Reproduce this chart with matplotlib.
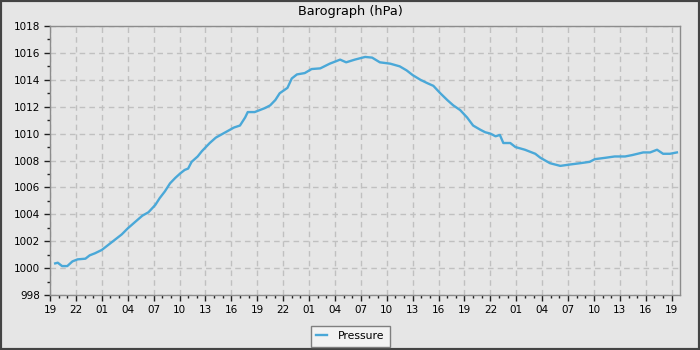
import matplotlib
matplotlib.use("Agg")
import matplotlib.pyplot as plt
from matplotlib.patches import Rectangle
from matplotlib.ticker import FixedLocator, MultipleLocator

# hours since 19:00 on the first day, and pressure in hPa
hours = [0.6, 0.9, 1.4, 2.0, 2.6, 3.2, 4.1, 4.6, 5.2, 6.0, 6.7, 7.5, 8.3, 9.0, 9.8,
         10.7, 11.4, 12.2, 12.7, 13.3, 13.9, 14.5, 15.1, 15.6, 16.0, 16.4, 17.1, 17.6,
         18.5, 19.2, 19.9, 20.6, 21.3, 22.0, 22.6, 22.9, 23.7, 24.3, 24.9, 25.5, 26.1,
         26.6, 27.5, 28.0, 28.6, 29.5, 30.3, 31.3, 32.4, 33.0, 33.6, 34.3, 35.3, 35.9,
         36.5, 37.3, 38.2, 39.4, 40.5, 41.3, 42.0, 42.9, 43.7, 44.4, 45.2, 46.0, 46.7,
         47.5, 48.3, 49.0, 49.8, 50.4, 51.0, 51.6, 52.1, 52.5, 53.3, 53.9, 55.0, 56.2,
         56.8, 57.9, 59.1, 60.2, 61.4, 62.5, 63.1, 64.3, 65.4, 66.6, 67.4, 68.7, 69.5,
         70.3, 71.0, 71.8, 72.6]
pressure = [1000.35, 1000.4, 1000.15, 1000.15, 1000.5, 1000.65, 1000.7, 1000.95, 1001.1,
            1001.35, 1001.7, 1002.1, 1002.5, 1002.95, 1003.4, 1003.9, 1004.15, 1004.7,
            1005.2, 1005.7, 1006.3, 1006.7, 1007.05, 1007.3, 1007.4, 1007.9, 1008.3,
            1008.7, 1009.3, 1009.7, 1009.95, 1010.2, 1010.45, 1010.6, 1011.2, 1011.6,
            1011.6, 1011.75, 1011.9, 1012.1, 1012.5, 1013.0, 1013.4, 1014.1, 1014.4,
            1014.5, 1014.8, 1014.85, 1015.2, 1015.35, 1015.5, 1015.3, 1015.5, 1015.6,
            1015.7, 1015.65, 1015.3, 1015.2, 1015.0, 1014.7, 1014.35, 1014.0, 1013.75,
            1013.55, 1013.0, 1012.5, 1012.1, 1011.75, 1011.2, 1010.6, 1010.3, 1010.1,
            1010.0, 1009.8, 1009.9, 1009.3, 1009.3, 1009.0, 1008.8, 1008.5, 1008.2,
            1007.8, 1007.6, 1007.7, 1007.8, 1007.9, 1008.1, 1008.2, 1008.3, 1008.3,
            1008.4, 1008.6, 1008.6, 1008.8, 1008.5, 1008.5, 1008.6]

tick_hours = list(range(0, 73, 3))
tick_labels = ["19", "22", "01", "04", "07", "10", "13", "16"] * 3 + ["19"]

bg = "#e6e6e6"
line_col = "#4aa8d8"

plt.rcParams['font.family'] = ['DejaVu Sans']

fig = plt.figure(figsize=(7, 3.5), dpi=100, facecolor=bg)
ax = fig.add_axes([50 / 700, 55 / 350, 630 / 700, 269 / 350], facecolor=bg)

ax.plot(hours, pressure, color=line_col, lw=1.7, label="Pressure")

ax.set_xlim(0, 72.96)
ax.set_ylim(998, 1018)

ax.xaxis.set_major_locator(FixedLocator(tick_hours))
ax.set_xticklabels(tick_labels)
ax.xaxis.set_minor_locator(MultipleLocator(1))
ax.yaxis.set_major_locator(MultipleLocator(2))
ax.yaxis.set_minor_locator(MultipleLocator(1))

ax.tick_params(which="major", length=4, width=1, color="#222222", labelsize=7.5, pad=3)
ax.tick_params(which="minor", length=2.5, width=1, color="#222222")

ax.grid(True, which="major", color="#c0c0c0", linestyle=(0, (4, 3)), linewidth=1)
ax.set_axisbelow(True)
for s in ax.spines.values():
    s.set_color("#8c8c8c")
    s.set_linewidth(1)

fig.text(0.5, 1 - 12 / 350, "Barograph (hPa)", ha="center", va="center", fontsize=9.3)

leg = fig.legend(loc="lower center", bbox_to_anchor=(0.5, 0.01), fontsize=7.8,
                 frameon=True, fancybox=False, handlelength=1.0, handletextpad=1.0,
                 borderpad=0.5, borderaxespad=0)
leg.get_frame().set_facecolor("#f2f2f2")
leg.get_frame().set_edgecolor("#7f7f7f")
leg.get_frame().set_alpha(1)
leg.get_frame().set_linewidth(1)

# dark outer border
fig.patches.append(Rectangle((0, 0), 1, 1, transform=fig.transFigure, fill=False,
                             edgecolor="#444444", linewidth=3))

fig.savefig("out.png", dpi=100, facecolor=bg)
